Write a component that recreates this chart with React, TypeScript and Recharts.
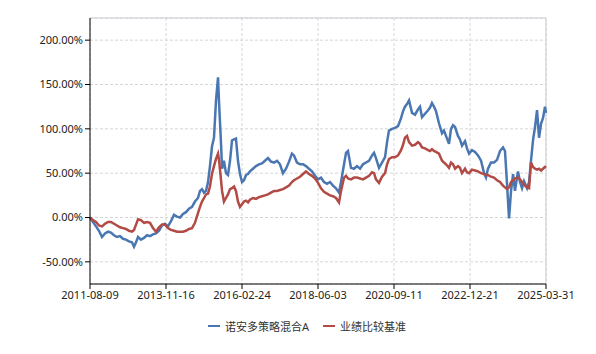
import React from "react";
import { LineChart, Line, XAxis, YAxis, CartesianGrid, Legend, ReferenceLine } from "recharts";

const tickLabels = ["2011-08-09", "2013-11-16", "2016-02-24", "2018-06-03", "2020-09-11", "2022-12-21", "2025-03-31"];
const totalDays = 4983;
const yTicks = [-50, 0, 50, 100, 150, 200];

// days since 2011-08-09
const days = [
  0, 33, 66, 98, 131, 164, 197, 229, 262, 295, 328, 361, 393, 426, 459, 481, 503, 525, 557, 590,
  623, 656, 688, 721, 754, 787, 820, 852, 885, 918, 951, 984, 1016, 1049, 1082, 1115, 1147, 1180, 1202, 1224,
  1246, 1268, 1290, 1311, 1333, 1355, 1377, 1399, 1410, 1432, 1443, 1464, 1486, 1508, 1530, 1552, 1574, 1595, 1617, 1639,
  1661, 1683, 1705, 1727, 1748, 1781, 1814, 1847, 1880, 1912, 1945, 1978, 2011, 2044, 2076, 2109, 2142, 2175, 2207, 2229,
  2262, 2295, 2328, 2360, 2393, 2426, 2459, 2492, 2524, 2557, 2590, 2623, 2655, 2688, 2721, 2743, 2776, 2798, 2819, 2852,
  2885, 2918, 2951, 2983, 3016, 3049, 3082, 3104, 3125, 3158, 3191, 3224, 3246, 3267, 3300, 3333, 3366, 3399, 3421, 3442,
  3464, 3486, 3519, 3552, 3584, 3606, 3628, 3661, 3694, 3716, 3737, 3759, 3781, 3814, 3847, 3868, 3890, 3923, 3945, 3967,
  3989, 4021, 4043, 4065, 4098, 4120, 4142, 4174, 4207, 4240, 4273, 4306, 4327, 4349, 4382, 4415, 4448, 4480, 4513, 4535,
  4557, 4579, 4601, 4623, 4644, 4677, 4699, 4721, 4743, 4776, 4798, 4819, 4841, 4863, 4885, 4907, 4929, 4950, 4972, 4983,
];

// 诺安多策略混合A (%)
const fund = [
  0, -5, -10, -15, -22, -18, -16, -17, -20, -22, -21, -24, -25, -27, -28, -33, -28, -22, -25, -23,
  -20, -21, -19, -18, -15, -9, -7, -10, -4, 3, 1, 0, 4, 6, 10, 12, 18, 22, 30, 32,
  28, 30, 40, 58, 80, 90, 132, 158, 130, 83, 55, 64, 50, 48, 64, 87, 88, 89, 64, 49,
  40, 42, 48, 49, 52, 55, 58, 60, 61, 64, 67, 63, 62, 64, 60, 50, 55, 63, 72, 70,
  62, 60, 60, 58, 55, 52, 47, 43, 45, 40, 38, 40, 36, 33, 28, 40, 60, 73, 75, 56,
  55, 58, 55, 60, 62, 64, 70, 73, 67, 56, 62, 68, 85, 98, 100, 101, 103, 112, 120, 125,
  128, 132, 118, 116, 122, 125, 113, 117, 121, 124, 129, 125, 120, 106, 95, 98, 92, 83, 100, 104,
  102, 92, 88, 81, 86, 78, 72, 76, 74, 70, 64, 50, 45, 55, 62, 62, 65, 75, 79, 75,
  38, -1, 30, 49, 30, 52, 40, 33, 41, 33, 40, 64, 87, 102, 121, 90, 106, 112, 125, 118,
];

// 业绩比较基准 (%)
const bench = [
  0, -3, -5, -9, -10, -7, -5, -5, -7, -9, -11, -12, -13, -15, -16, -14, -8, -2, -3, -6,
  -5, -6, -12, -16, -11, -8, -8, -12, -14, -15, -16, -16, -16, -15, -13, -12, -6, 5, 12, 18,
  22, 26, 27, 35, 49, 58, 66, 72, 65, 42, 30, 18, 22, 26, 32, 33, 35, 30, 18, 12,
  15, 18, 19, 17, 20, 22, 21, 23, 24, 25, 26, 28, 30, 30, 31, 32, 34, 36, 40, 42,
  44, 46, 49, 52, 49, 47, 44, 39, 33, 29, 27, 25, 24, 22, 17, 30, 45, 47, 44, 43,
  45, 45, 44, 43, 45, 47, 51, 50, 43, 39, 46, 50, 60, 66, 68, 68, 70, 76, 82, 90,
  92, 85, 81, 82, 85, 83, 79, 78, 76, 75, 77, 75, 74, 72, 64, 62, 60, 56, 62, 60,
  55, 58, 56, 50, 55, 51, 50, 54, 53, 52, 50, 49, 48, 48, 46, 45, 42, 40, 36, 34,
  32, 34, 40, 42, 44, 45, 43, 40, 37, 34, 33, 62, 57, 55, 54, 55, 53, 55, 57, 56,
];

const data = days.map((d, i) => ({ d, fund: fund[i], bench: bench[i] }));
const xTicks = tickLabels.map((_, i) => (totalDays * i) / (tickLabels.length - 1));

const BLUE = "#4a77b2";
const RED = "#b24a46";
const FONT = "'Noto Sans', 'Noto Sans CJK SC', sans-serif";

const renderLegend = () => (
  <div style={{ display: "flex", justifyContent: "center", alignItems: "center", paddingLeft: 50, fontFamily: FONT, fontSize: 11, color: "#333" }}>
    <span style={{ display: "inline-block", width: 12, height: 2, background: BLUE, marginRight: 5 }} />
    <span style={{ marginRight: 14 }}>诺安多策略混合A</span>
    <span style={{ display: "inline-block", width: 12, height: 2, background: RED, marginRight: 5 }} />
    <span>业绩比较基准</span>
  </div>
);

export default function App() {
  return (
    <div style={{ width: 580, height: 338 }}>
      <LineChart width={580} height={338} data={data} margin={{ top: 10, right: 42, left: 10, bottom: 6 }}>
        <CartesianGrid stroke="#d6d6d6" strokeDasharray="3 2" />
        <ReferenceLine y={225} stroke="#c8ccd4" />
        <ReferenceLine x={totalDays} stroke="#c8ccd4" />
        <XAxis
          dataKey="d"
          type="number"
          domain={[0, totalDays]}
          ticks={xTicks}
          tickFormatter={(v: number) => tickLabels[Math.round((v / totalDays) * (tickLabels.length - 1))]}
          tick={{ fill: "#222", fontSize: 11, fontFamily: FONT }}
          stroke="#000"
          tickSize={5}
          height={34}
          interval={0}
        />
        <YAxis
          type="number"
          domain={[-75, 225]}
          ticks={yTicks}
          tickFormatter={(v: number) => v.toFixed(2) + "%"}
          tick={{ fill: "#222", fontSize: 11, fontFamily: FONT }}
          stroke="#000"
          tickSize={5}
          width={72}
          allowDataOverflow
        />
        <Legend verticalAlign="bottom" height={22} content={renderLegend} />
        <Line type="linear" dataKey="fund" stroke={BLUE} strokeWidth={2.5} dot={false} isAnimationActive={false} />
        <Line type="linear" dataKey="bench" stroke={RED} strokeWidth={2.5} dot={false} isAnimationActive={false} />
      </LineChart>
    </div>
  );
}
